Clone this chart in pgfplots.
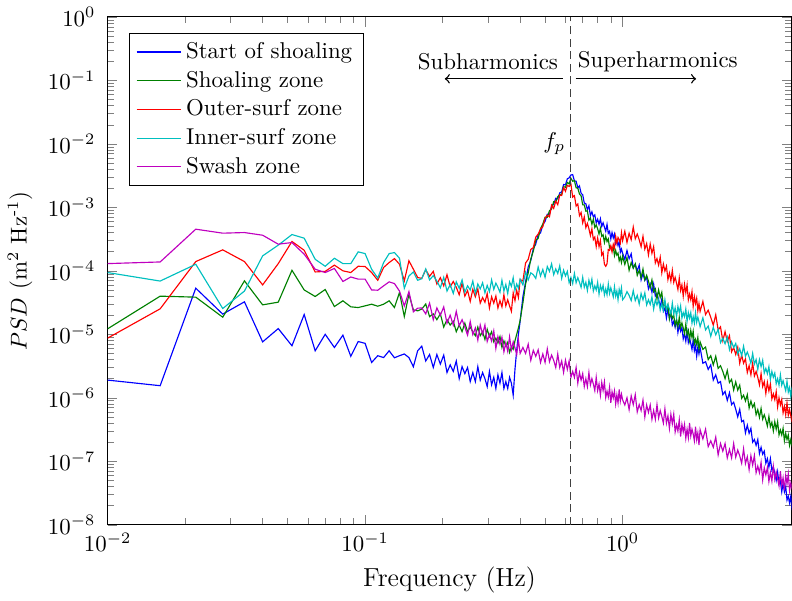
\documentclass[border=0pt]{standalone}
\usepackage{pgfplots}
\usepackage{pgfplotstable}
\pgfplotsset{compat=1.18}
\definecolor{mb}{rgb}{0,0,1}
\definecolor{mg}{rgb}{0,0.5,0}
\definecolor{mr}{rgb}{1,0,0}
\definecolor{mc}{rgb}{0,0.75,0.75}
\definecolor{mm}{rgb}{0.75,0,0.75}
\pgfplotstableread{
f b g r c m
0.010 1.90e-6 1.22e-5 8.7e-6 9.4e-5 1.30e-4
0.016 1.55e-6 3.99e-5 2.52e-5 6.9e-5 1.38e-4
0.022 5.33e-5 3.85e-5 1.40e-4 1.27e-4 4.53e-4
0.028 2.08e-5 1.86e-5 2.14e-4 2.55e-5 3.92e-4
0.034 3.25e-5 6.95e-5 1.40e-4 4.8e-5 4.01e-4
0.040 7.6e-6 2.91e-5 6.0e-5 1.72e-4 3.64e-4
0.046 1.23e-5 3.21e-5 1.30e-4 2.54e-4 2.63e-4
0.052 6.6e-6 1.02e-4 2.90e-4 3.73e-4 2.79e-4
0.058 2.05e-5 5.0e-5 2.11e-4 3.27e-4 1.83e-4
0.064 5.5e-6 3.94e-5 9.6e-5 1.52e-4 1.06e-4
0.070 1.00e-5 5.08e-5 9.8e-5 1.18e-4 9.4e-5
0.076 6.2e-6 2.74e-5 1.23e-4 1.58e-4 1.09e-4
0.082 9.7e-6 3.37e-5 1.00e-4 1.30e-4 6.8e-5
0.088 4.5e-6 2.71e-5 9.4e-5 1.30e-4 8.0e-5
0.094 7.7e-6 2.64e-5 1.18e-4 1.99e-4 7.4e-5
0.100 7.2e-6 2.81e-5 1.17e-4 1.87e-4 7.4e-5
0.106 3.6e-6 2.98e-5 9.4e-5 1.06e-4 5.0e-5
0.112 4.6e-6 2.77e-5 7.1e-5 7.7e-5 4.95e-5
0.118 4.3e-6 2.98e-5 1.13e-4 1.35e-4 5.8e-5
0.124 5.5e-6 3.37e-5 1.35e-4 1.87e-4 6.7e-5
0.130 4.27e-6 2.64e-5 1.56e-4 1.94e-4 6.3e-5
0.136 4.6e-6 4.55e-5 1.27e-4 1.58e-4 4.8e-5
0.142 4.9e-6 1.91e-5 6.95e-5 5.3e-5 2.8e-5
0.148 4.3e-6 4.28e-5 1.44e-4 8.3e-5 4.7e-5
0.154 3.08e-6 2.43e-5 1.06e-4 9.6e-5 2.26e-5
0.160 5.5e-6 2.34e-5 7.85e-5 7.1e-5 2.58e-5
0.166 6.5e-6 2.5e-5 7.6e-5 7.5e-5 2.6e-5
0.172 3.8e-6 3.0e-5 1.04e-4 1.07e-4 2.1e-5
0.178 4.8e-6 1.9e-5 8.2e-5 7.2e-5 3.1e-5
0.184 3.0e-6 2.1e-5 9.8e-5 8.4e-5 1.7e-5
0.190 4.8e-6 1.7e-5 6.2e-5 6.9e-5 2.6e-5
0.196 3.4e-6 2.1e-5 7.8e-5 5.4e-5 2.0e-5
0.202 4.7e-6 1.3e-5 5.8e-5 7.9e-5 2.7e-5
0.208 2.5e-6 1.7e-5 8.7e-5 4.8e-5 1.5e-5
0.214 3.3e-6 1.4e-5 5.6e-5 6.1e-5 2.0e-5
0.220 2.6e-6 1.6e-5 6.8e-5 4.4e-5 1.4e-5
0.226 3.8e-6 1.1e-5 5.5e-5 6.7e-5 2.3e-5
0.232 2.0e-6 1.4e-5 4.2e-5 5.3e-5 1.36e-5
0.238 3.1e-6 1.1e-5 6.4e-5 7.2e-5 1.7e-5
0.244 2.4e-6 1.5e-5 4.0e-5 4.6e-5 1.3e-5
0.250 3.0e-6 1.1e-5 4.9e-5 5.8e-5 9.7e-6
0.256 1.8e-6 1.3e-5 3.3e-5 5.0e-5 1.6e-5
0.262 2.5e-6 1.1e-5 5.1e-5 6.9e-5 9.9e-6
0.268 1.8e-6 9.5e-6 3.9e-5 4.4e-5 1.26e-5
0.274 3.1e-6 1.3e-5 5.2e-5 6.2e-5 8.1e-6
0.280 1.9e-6 9.5e-6 3.1e-5 5.2e-5 1.4e-5
0.286 2.5e-6 1.1e-5 3.8e-5 6.5e-5 1.0e-5
0.292 2.0e-6 8.3e-6 3.2e-5 4.5e-5 1.4e-5
0.298 1.5e-6 1.2e-5 4.4e-5 5.9e-5 7.7e-6
0.304 2.6e-6 9.2e-6 2.6e-5 4.7e-5 9.9e-6
0.310 1.6e-6 1.1e-5 3.9e-5 7.2e-5 7.8e-6
0.316 2.1e-6 7.6e-6 3.1e-5 5.1e-5 1.13e-5
0.322 1.4e-6 8.7e-6 4.0e-5 6.4e-5 6.0e-6
0.328 2.3e-6 7.3e-6 2.6e-5 5.5e-5 9.2e-6
0.334 1.7e-6 9.2e-6 3.4e-5 4.6e-5 7.0e-6
0.340 2.5e-6 6.2e-6 2.7e-5 7.1e-5 9.0e-6
0.346 1.4e-6 7.9e-6 4.2e-5 4.8e-5 5.3e-6
0.352 1.8e-6 6.5e-6 2.8e-5 6.1e-5 7.4e-6
0.358 1.4e-6 7.5e-6 3.5e-5 4.4e-5 5.4e-6
0.364 2.1e-6 5.2e-6 2.8e-5 6.7e-5 9.1e-6
0.370 1.7e-6 6.3e-6 2.3e-5 5.7e-5 5.7e-6
0.376 1.1e-6 5.8e-6 4.5e-5 7.8e-5 7.6e-6
0.382 2.8e-6 7.9e-6 3.4e-5 4.9e-5 6.1e-6
0.388 5.6e-6 1.0e-5 4.9e-5 6.2e-5 4.8e-6
0.394 1.0e-5 1.26e-5 3.8e-5 5.3e-5 8.2e-6
0.400 1.6e-5 1.66e-5 7.3e-5 7.4e-5 5.0e-6
0.41 3.9e-5 3.1e-5 6.9e-5 6.0e-5 6.2e-6
0.42 6.7e-5 6.2e-5 1.33e-4 9.5e-5 5.0e-6
0.43 1.15e-4 9.3e-5 1.52e-4 7.2e-5 7.0e-6
0.44 1.45e-4 1.53e-4 2.17e-4 9.3e-5 3.9e-6
0.45 2.23e-4 2.04e-4 2.32e-4 8.7e-5 5.6e-6
0.46 2.64e-4 3.03e-4 3.40e-4 7.6e-5 4.5e-6
0.47 3.72e-4 3.24e-4 3.78e-4 1.15e-4 5.7e-6
0.48 3.96e-4 4.63e-4 4.57e-4 8.3e-5 3.6e-6
0.49 5.3e-4 5.47e-4 4.97e-4 1.05e-4 4.9e-6
0.50 6.0e-4 6.98e-4 6.76e-4 7.9e-5 3.6e-6
0.51 7.8e-4 7.0e-4 7.5e-4 1.17e-4 5.9e-6
0.52 7.8e-4 8.87e-4 7.1e-4 9.8e-5 3.7e-6
0.53 1.04e-3 9.4e-4 1.08e-3 1.29e-4 4.7e-6
0.54 1.12e-3 1.23e-3 9.6e-4 8.7e-5 3.9e-6
0.55 1.39e-3 1.21e-3 1.25e-3 1.07e-4 3.0e-6
0.56 1.36e-3 1.48e-3 1.10e-3 9.1e-5 4.9e-6
0.57 1.69e-3 1.57e-3 1.56e-3 1.20e-4 3.0e-6
0.58 1.75e-3 1.61e-3 1.54e-3 7.6e-5 3.8e-6
0.59 2.29e-3 2.12e-3 2.04e-3 1.02e-4 2.5e-6
0.60 2.26e-3 2.07e-3 1.79e-3 8.3e-5 3.9e-6
0.61 2.82e-3 2.47e-3 2.22e-3 9.8e-5 2.8e-6
0.62 2.92e-3 2.34e-3 2.14e-3 6.5e-5 3.8e-6
0.63 3.24e-3 2.87e-3 2.33e-3 7.9e-5 2.1e-6
0.64 3.28e-3 2.58e-3 1.45e-3 6.3e-5 2.6e-6
0.65 2.61e-3 2.63e-3 1.53e-3 9.1e-5 2.1e-6
0.66 2.58e-3 2.03e-3 1.05e-3 6.5e-5 3.0e-6
0.67 2.04e-3 2.01e-3 1.13e-3 7.8e-5 1.7e-6
0.68 2.18e-3 1.62e-3 7.4e-4 6.6e-5 2.5e-6
0.69 1.67e-3 1.52e-3 8.3e-4 5.5e-5 1.9e-6
0.70 1.58e-3 1.10e-3 5.7e-4 7.9e-5 2.4e-6
0.71 1.17e-3 1.09e-3 7.1e-4 5.5e-5 1.5e-6
0.72 1.14e-3 8.7e-4 4.8e-4 6.6e-5 2.0e-6
0.73 9.2e-4 8.8e-4 5.6e-4 4.9e-5 1.5e-6
0.74 1.06e-3 6.3e-4 4.6e-4 7.1e-5 2.5e-6
0.75 7.4e-4 6.8e-4 3.6e-4 5.6e-5 1.6e-6
0.76 8.5e-4 5.4e-4 4.6e-4 7.4e-5 2.0e-6
0.77 7.1e-4 6.5e-4 3.1e-4 4.8e-5 1.65e-6
0.78 7.6e-4 4.8e-4 3.4e-4 5.8e-5 1.3e-6
0.79 5.7e-4 5.3e-4 2.4e-4 5.0e-5 2.1e-6
0.80 6.5e-4 4.6e-4 3.3e-4 6.6e-5 1.3e-6
0.81 5.4e-4 3.8e-4 2.4e-4 4.3e-5 1.65e-6
0.82 6.6e-4 4.7e-4 3.0e-4 5.9e-5 1.1e-6
0.83 5.0e-4 3.5e-4 1.77e-4 4.9e-5 1.74e-6
0.84 5.7e-4 3.7e-4 1.95e-4 5.9e-5 1.3e-6
0.85 4.9e-4 2.8e-4 1.27e-4 4.2e-5 1.78e-6
0.86 4.2e-4 3.5e-4 1.18e-4 5.2e-5 1.01e-6
0.87 5.4e-4 2.9e-4 1.29e-4 4.2e-5 1.27e-6
0.88 3.9e-4 3.2e-4 2.17e-4 6.2e-5 1.03e-6
0.89 4.2e-4 2.3e-4 2.1e-4 4.4e-5 1.46e-6
0.90 3.2e-4 2.4e-4 2.48e-4 5.4e-5 8.3e-7
0.91 4.0e-4 2.1e-4 1.99e-4 4.6e-5 1.24e-6
0.92 3.3e-4 2.4e-4 2.62e-4 3.9e-5 1.0e-6
0.93 3.8e-4 1.74e-4 2.28e-4 5.6e-5 1.28e-6
0.94 2.7e-4 2.1e-4 3.47e-4 4.0e-5 8.0e-7
0.95 3.0e-4 1.77e-4 2.72e-4 4.8e-5 1.11e-6
0.96 2.5e-4 1.9e-4 3.35e-4 3.5e-5 8.3e-7
0.97 2.9e-4 1.44e-4 3.1e-4 5.1e-5 1.35e-6
0.98 1.95e-4 1.64e-4 2.74e-4 4.2e-5 8.9e-7
0.99 2.2e-4 1.35e-4 3.99e-4 5.4e-5 1.14e-6
1.00 1.9e-4 1.70e-4 2.99e-4 3.5e-5 9.3e-7
1.02 1.51e-4 1.26e-4 4.2e-4 3.9e-5 7.7e-7
1.04 2.09e-4 1.62e-4 2.8e-4 4.7e-5 1.0e-6
1.06 1.55e-4 1.02e-4 3.9e-4 4.1e-5 6.5e-7
1.08 1.86e-4 1.35e-4 3.1e-4 3.4e-5 1.07e-6
1.10 1.12e-4 1.10e-4 4.9e-4 4.9e-5 7.8e-7
1.12 1.26e-4 1.29e-4 3.2e-4 3.4e-5 1.12e-6
1.14 1.00e-4 8.5e-5 3.8e-4 4.1e-5 6.0e-7
1.16 1.23e-4 1.02e-4 3.1e-4 3.0e-5 7.8e-7
1.18 7.2e-5 7.8e-5 2.4e-4 4.4e-5 6.3e-7
1.20 9.1e-5 1.07e-4 3.5e-4 3.5e-5 9.2e-7
1.22 7.1e-5 7.2e-5 2.2e-4 4.5e-5 5.0e-7
1.24 7.9e-5 8.5e-5 2.7e-4 2.9e-5 7.7e-7
1.26 5.2e-5 6.9e-5 1.78e-4 3.5e-5 5.9e-7
1.28 6.2e-5 5.4e-5 2.65e-4 2.95e-5 7.7e-7
1.30 4.6e-5 7.2e-5 1.89e-4 3.9e-5 4.6e-7
1.32 6.2e-5 4.7e-5 2.4e-4 2.5e-5 6.3e-7
1.34 4.0e-5 5.2e-5 1.33e-4 3.5e-5 4.6e-7
1.36 4.4e-5 3.6e-5 1.56e-4 2.9e-5 7.8e-7
1.38 3.5e-5 5.0e-5 1.23e-4 3.5e-5 4.8e-7
1.40 2.7e-5 3.8e-5 1.64e-4 2.4e-5 6.3e-7
1.42 3.6e-5 4.6e-5 9.3e-5 3.0e-5 5.1e-7
1.44 2.3e-5 2.75e-5 1.28e-4 2.4e-5 4.0e-7
1.46 2.6e-5 3.0e-5 9.9e-5 3.5e-5 6.7e-7
1.48 1.8e-5 2.4e-5 1.18e-4 2.45e-5 4.0e-7
1.50 2.5e-5 2.9e-5 7.3e-5 2.95e-5 5.2e-7
1.52 1.8e-5 1.74e-5 9.2e-5 2.5e-5 3.3e-7
1.54 2.2e-5 2.2e-5 6.9e-5 2.1e-5 5.5e-7
1.56 1.4e-5 1.78e-5 1.02e-4 3.1e-5 3.9e-7
1.58 1.6e-5 2.0e-5 6.6e-5 2.1e-5 5.5e-7
1.60 1.3e-5 1.38e-5 7.9e-5 2.6e-5 2.9e-7
1.62 1.7e-5 1.70e-5 6.4e-5 1.9e-5 3.75e-7
1.64 1.07e-5 1.32e-5 5.1e-5 2.75e-5 3.0e-7
1.66 1.4e-5 1.86e-5 7.7e-5 2.2e-5 4.5e-7
1.68 1.12e-5 1.29e-5 4.9e-5 2.8e-5 2.45e-7
1.70 1.29e-5 1.51e-5 6.0e-5 1.8e-5 3.8e-7
1.72 8.5e-6 1.26e-5 4.0e-5 2.2e-5 2.9e-7
1.74 1.02e-5 1.02e-5 6.1e-5 1.9e-5 3.8e-7
1.76 7.8e-6 1.45e-5 4.5e-5 2.5e-5 2.3e-7
1.78 1.10e-5 9.8e-6 6.0e-5 1.6e-5 3.2e-7
1.80 7.4e-6 1.15e-5 3.5e-5 2.2e-5 2.35e-7
1.82 8.7e-6 8.1e-6 4.3e-5 1.8e-5 4.0e-7
1.84 7.2e-6 1.15e-5 3.5e-5 2.2e-5 2.5e-7
1.86 5.8e-6 8.9e-6 4.7e-5 1.5e-5 3.2e-7
1.88 8.1e-6 1.12e-5 2.75e-5 1.9e-5 2.7e-7
1.90 5.5e-6 7.1e-6 3.9e-5 1.5e-5 2.1e-7
1.92 6.5e-6 8.3e-6 3.05e-5 2.2e-5 3.5e-7
1.94 4.5e-6 6.9e-6 3.7e-5 1.55e-5 2.2e-7
1.96 6.3e-6 8.9e-6 2.35e-5 1.86e-5 2.8e-7
1.98 4.9e-6 5.8e-6 3.05e-5 1.58e-5 1.8e-7
2.00 6.2e-6 7.6e-6 2.3e-5 1.32e-5 3.15e-7
2.05 3.5e-6 5.8e-6 3.3e-5 1.82e-5 2.25e-7
2.10 3.7e-6 6.3e-6 2.05e-5 1.17e-5 3.2e-7
2.15 2.8e-6 4.0e-6 2.4e-5 1.35e-5 1.7e-7
2.20 3.3e-6 4.6e-6 1.85e-5 9.3e-6 2.1e-7
2.25 1.9e-6 3.3e-6 1.39e-5 1.29e-5 1.66e-7
2.30 2.3e-6 4.5e-6 2.03e-5 9.8e-6 2.4e-7
2.35 1.7e-6 2.9e-6 1.17e-5 1.2e-5 1.26e-7
2.40 1.8e-6 3.2e-6 1.31e-5 7.4e-6 1.9e-7
2.45 1.12e-6 2.6e-6 7.9e-6 8.7e-6 1.44e-7
2.50 1.26e-6 2.0e-6 1.1e-5 7.1e-6 1.9e-7
2.55 9.1e-7 2.7e-6 7.7e-6 9.1e-6 1.13e-7
2.60 1.20e-6 1.74e-6 9.5e-6 5.75e-6 1.54e-7
2.65 7.8e-7 1.95e-6 5.3e-6 7.6e-6 1.13e-7
2.70 8.5e-7 1.32e-6 6.2e-6 6.2e-6 1.9e-7
2.75 6.6e-7 1.78e-6 4.8e-6 7.2e-6 1.16e-7
2.80 5.0e-7 1.32e-6 6.25e-6 4.9e-6 1.5e-7
2.85 6.6e-7 1.58e-6 3.5e-6 5.9e-6 1.22e-7
2.90 4.2e-7 9.8e-7 4.7e-6 4.6e-6 9.3e-8
2.95 4.4e-7 1.10e-6 3.5e-6 6.5e-6 1.57e-7
3.00 2.8e-7 8.9e-7 4.1e-6 4.5e-6 9.2e-8
3.05 3.7e-7 1.12e-6 2.5e-6 5.25e-6 1.18e-7
3.10 2.75e-7 6.9e-7 3.2e-6 4.4e-6 7.4e-8
3.15 3.3e-7 8.9e-7 2.3e-6 3.5e-6 1.22e-7
3.20 2.0e-7 7.1e-7 3.5e-6 5.0e-6 8.7e-8
3.25 2.2e-7 8.1e-7 2.2e-6 3.4e-6 1.23e-7
3.30 1.78e-7 5.4e-7 2.6e-6 4.0e-6 6.6e-8
3.35 2.2e-7 6.5e-7 2.1e-6 2.8e-6 8.4e-8
3.40 1.32e-7 4.9e-7 1.6e-6 4.0e-6 6.6e-8
3.45 1.66e-7 6.8e-7 2.4e-6 3.1e-6 9.6e-8
3.50 1.29e-7 4.6e-7 1.5e-6 3.9e-6 5.1e-8
3.55 1.45e-7 5.4e-7 1.8e-6 2.45e-6 7.9e-8
3.60 9.3e-8 4.5e-7 1.17e-6 2.9e-6 6.1e-8
3.65 1.10e-7 3.6e-7 1.75e-6 2.4e-6 8.0e-8
3.70 8.1e-8 5.1e-7 1.28e-6 3.1e-6 4.8e-8
3.75 1.10e-7 3.5e-7 1.66e-6 1.95e-6 6.7e-8
3.80 7.2e-8 4.1e-7 9.6e-7 2.6e-6 4.9e-8
3.85 8.1e-8 3.0e-7 1.15e-6 2.1e-6 8.3e-8
3.90 6.5e-8 4.2e-7 9.3e-7 2.45e-6 5.2e-8
3.95 5.0e-8 3.2e-7 1.25e-6 1.66e-6 6.8e-8
4.00 6.8e-8 4.2e-7 7.2e-7 2.0e-6 5.3e-8
4.05 4.4e-8 2.6e-7 1.0e-6 1.58e-6 4.1e-8
4.10 4.9e-8 3.1e-7 7.7e-7 2.3e-6 7.0e-8
4.15 3.3e-8 2.6e-7 9.4e-7 1.58e-6 4.2e-8
4.20 4.5e-8 3.3e-7 5.8e-7 1.86e-6 5.5e-8
4.25 3.3e-8 2.1e-7 7.3e-7 1.55e-6 3.5e-8
4.30 4.0e-8 2.75e-7 5.4e-7 1.29e-6 6.0e-8
4.35 2.45e-8 2.2e-7 8.3e-7 1.82e-6 4.4e-8
4.40 2.8e-8 2.6e-7 5.3e-7 1.23e-6 6.3e-8
4.45 2.2e-8 1.78e-7 6.5e-7 1.45e-6 3.45e-8
4.50 2.8e-8 2.2e-7 5.2e-7 1.05e-6 4.5e-8
4.55 1.7e-8 1.7e-7 4.1e-7 1.5e-6 3.6e-8
}\psd
\begin{document}
\begin{tikzpicture}
\begin{axis}[
  scale only axis,
  width=299pt, height=222pt,
  xmode=log, ymode=log,
  xmin=0.01, xmax=4.53, ymin=1e-8, ymax=1,
  ytick={1e-8,1e-7,1e-6,1e-5,1e-4,1e-3,1e-2,1e-1,1},
  xtick={0.01,0.1,1},
  yticklabel style={xshift=-1.8pt},
  xlabel={Frequency (Hz)},
  xlabel style={font=\fontsize{11.4}{13.7}\selectfont},
  ylabel={$PSD$ (m\textsuperscript{2} Hz\textsuperscript{-1})},
  legend style={at={(0.031,0.969)}, anchor=north west, draw=black, inner xsep=3pt},
  legend cell align=left,
  legend image code/.code={\draw[mark repeat=2,mark phase=2,#1] plot coordinates {(0cm,0cm) (0.34cm,0cm) (0.68cm,0cm)};},
  every axis plot/.append style={line width=0.5pt},
]
\addplot[mb] table[x=f,y=b]{\psd};
\addlegendentry{Start of shoaling}
\addplot[mg] table[x=f,y=g]{\psd};
\addlegendentry{Shoaling zone}
\addplot[mr] table[x=f,y=r]{\psd};
\addlegendentry{Outer-surf zone}
\addplot[mc] table[x=f,y=c]{\psd};
\addlegendentry{Inner-surf zone}
\addplot[mm] table[x=f,y=m]{\psd};
\addlegendentry{Swash zone}
\addplot[black!75, line width=0.6pt, dash pattern=on 3.5pt off 2pt, forget plot] coordinates {(0.628,1e-8) (0.628,1)};
\node[anchor=east, inner sep=1.5pt] at (axis cs:0.62,1e-2) {$f_p$};
\node at (axis cs:0.30,0.195) {Subharmonics};
\node at (axis cs:1.37,0.195) {Superharmonics};
\draw[->, semithick] (axis cs:0.585,0.106) -- (axis cs:0.204,0.106);
\draw[->, semithick] (axis cs:0.657,0.106) -- (axis cs:1.93,0.106);
\end{axis}
\end{tikzpicture}
\end{document}
